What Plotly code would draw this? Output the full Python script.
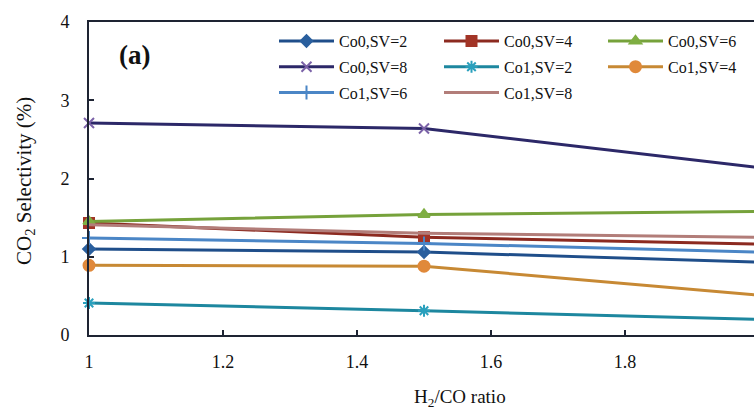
import plotly.graph_objects as go

h2co_ratio = [1.0, 1.5, 2.0]

series_names = ["Co0,SV=2", "Co0,SV=4", "Co0,SV=6", "Co0,SV=8",
                "Co1,SV=2", "Co1,SV=4", "Co1,SV=6", "Co1,SV=8"]

co0_sv2 = [1.10, 1.06, 0.93]
co0_sv4 = [1.43, 1.25, 1.16]
co0_sv6 = [1.45, 1.54, 1.58]
co0_sv8 = [2.71, 2.64, 2.14]
co1_sv2 = [0.41, 0.31, 0.20]
co1_sv4 = [0.89, 0.88, 0.51]
co1_sv6 = [1.24, 1.17, 1.06]
co1_sv8 = [1.41, 1.30, 1.25]

x_ticks = [1.0, 1.2, 1.4, 1.6, 1.8]
x_tick_labels = ["1", "1.2", "1.4", "1.6", "1.8"]
y_ticks = [0, 1, 2, 3, 4]

values = [co0_sv2, co0_sv4, co0_sv6, co0_sv8, co1_sv2, co1_sv4, co1_sv6, co1_sv8]

styles = [
    dict(line="#1F4E8A", marker="#2A5F9E", symbol="diamond", size=9),
    dict(line="#8C2A20", marker="#A23426", symbol="square", size=10),
    dict(line="#76A23B", marker="#7FAE42", symbol="triangle-up", size=10),
    dict(line="#2C2868", marker="#7B62A8", symbol="x-thin-open", size=10),
    dict(line="#1D879F", marker="#2AA0BD", symbol="asterisk-open", size=10),
    dict(line="#C78934", marker="#E0893A", symbol="circle", size=11),
    dict(line="#4B86C6", marker="#4B86C6", symbol="cross-thin-open", size=10),
    dict(line="#B27D79", marker="#B27D79", symbol=None, size=0),
]

# legend column assignment (row-wise layout of 3 columns)
legend_ids = ["legend", "legend2", "legend3", "legend",
              "legend2", "legend3", "legend", "legend2"]

fig = go.Figure()
for name, vals, st, lg in zip(series_names, values, styles, legend_ids):
    if st["symbol"] is None:
        mode = "lines"
        marker = None
    else:
        mode = "lines+markers"
        marker = dict(symbol=st["symbol"], size=st["size"], color=st["marker"],
                      line=dict(color=st["marker"], width=2))
    fig.add_trace(go.Scatter(
        x=h2co_ratio, y=vals, name=name, mode=mode,
        line=dict(color=st["line"], width=3),
        marker=marker, cliponaxis=False, legend=lg, legendgroup=name,
    ))

serif = "Liberation Serif"
axis_color = "#1E2433"

L, R, T, B = 89, 0, 22, 75
W, H = 754, 410
pw, ph = W - L - R, H - T - B


def px(xp):
    return (xp - L) / pw


def py(yp):
    return (H - B - yp) / ph


def make_legend(xpix):
    return dict(
        orientation="v", x=px(xpix), y=py(24), xanchor="left", yanchor="top",
        itemwidth=55, font=dict(family=serif, size=16, color="#111"),
        bgcolor="rgba(0,0,0,0)", traceorder="grouped", tracegroupgap=2,
    )


fig.update_layout(
    width=W, height=H,
    margin=dict(l=L, r=R, t=T, b=B, autoexpand=False),
    paper_bgcolor="white", plot_bgcolor="white",
    font=dict(family=serif, size=18, color="#111"),
    showlegend=True,
    legend=make_legend(274),
    legend2=make_legend(439),
    legend3=make_legend(603),
    xaxis=dict(
        range=[1.0, 1.9925], tickvals=x_ticks, ticktext=x_tick_labels,
        ticks="inside", ticklen=5, tickwidth=1.5, tickcolor=axis_color,
        showline=True, linecolor=axis_color, linewidth=2, mirror=True,
        showgrid=False, zeroline=False, ticklabelstandoff=9,
        tickfont=dict(family=serif, size=18),
    ),
    yaxis=dict(
        range=[0, 4], tickvals=y_ticks,
        ticks="inside", ticklen=5, tickwidth=1.5, tickcolor=axis_color,
        showline=True, linecolor=axis_color, linewidth=2, mirror=True,
        showgrid=False, zeroline=False, ticklabelstandoff=14,
        tickfont=dict(family=serif, size=18),
    ),
    annotations=[
        dict(text="<b>(a)</b>", x=px(134), y=py(55), xref="paper", yref="paper",
             xanchor="center", yanchor="middle", showarrow=False,
             font=dict(family=serif, size=27, color="#111")),
        dict(text="H<sub>2</sub>/CO ratio", x=px(460), y=py(398),
             xref="paper", yref="paper", xanchor="center", yanchor="middle",
             showarrow=False, font=dict(family=serif, size=19, color="#111")),
        dict(text="CO<sub>2</sub> Selectivity (%)", x=px(25), y=py(181),
             xref="paper", yref="paper", xanchor="center", yanchor="middle",
             textangle=-90, showarrow=False,
             font=dict(family=serif, size=21, color="#111")),
    ],
)

fig.write_html(
    "out.html",
    config={"displayModeBar": False},
    post_script="document.body.style.margin='0';document.body.style.padding='0';",
)
